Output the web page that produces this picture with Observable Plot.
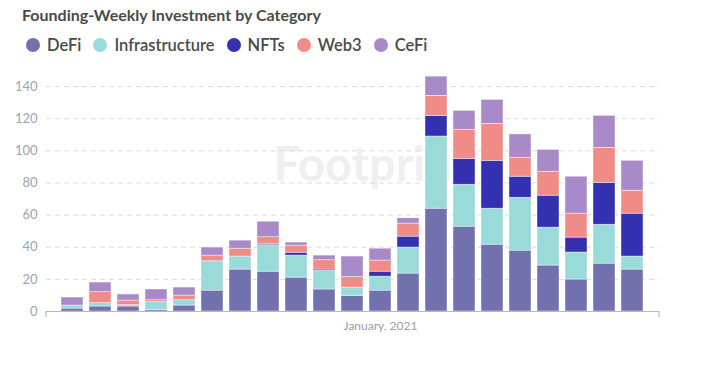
<!DOCTYPE html>
<html>
<head>
<meta charset="utf-8">
<script src="https://cdn.jsdelivr.net/npm/d3@7"></script>
<script src="https://cdn.jsdelivr.net/npm/@observablehq/plot@0.6"></script>
<style>
  html, body { margin: 0; padding: 0; background: #fff; }
  #wrap { position: relative; width: 701px; height: 368px; font-family: Lato, "Open Sans", sans-serif; }
  #title { position: absolute; left: 22px; top: 5px; font-size: 16px; font-weight: bold; color: #4a4a4a; white-space: nowrap; }
  #legend { position: absolute; left: 26px; top: 35px; display: flex; gap: 0; font-size: 16.5px; font-weight: 600; color: #4a4a4a; white-space: nowrap; }
  #legend span.item { display: inline-flex; align-items: center; margin-right: 12px; }
  #legend span.dot { display: inline-block; width: 14px; height: 14px; border-radius: 50%; margin-right: 7px; }
  #chart { position: absolute; left: 0; top: 0; }
</style>
</head>
<body>
<div id="wrap">
  <div id="chart"></div>
  <div id="title">Founding-Weekly Investment by Category</div>
  <div id="legend"></div>
</div>
<script>
const weeks = ["2020-10-19","2020-10-26","2020-11-02","2020-11-09","2020-11-16","2020-11-23","2020-11-30","2020-12-07","2020-12-14","2020-12-21","2020-12-28","2021-01-04","2021-01-11","2021-01-18","2021-01-25","2021-02-01","2021-02-08","2021-02-15","2021-02-22","2021-03-01","2021-03-08"];
const categories = ["DeFi","Infrastructure","NFTs","Web3","CeFi"];
const colors = ["#7371ad","#9adbd9","#3431b0","#f08c88","#a98ac8"];
const defi  = [1.8,3.1,3.1,0.8,3.7,13.0,26.1,24.8,21.1,13.7,9.7,13.0,23.6,64.0,52.8,41.6,37.9,28.6,19.9,29.8,26.1];
const infra = [1.9,2.1,0.8,5.0,3.3,17.9,8.1,16.4,13.7,11.6,5.2,8.7,16.2,44.9,26.1,22.4,32.9,23.6,16.8,24.2,8.1];
const nfts  = [0,0,0,0,0,0.6,0,0.6,1.8,0.8,0,3.1,6.8,12.9,16.1,29.8,13.1,19.9,9.3,26.1,26.7];
const web3  = [0,6.8,2.9,1.2,2.9,3.3,4.9,4.4,4.4,5.8,6.6,6.9,8.1,12.4,18.1,23.0,11.8,14.9,14.9,21.8,14.3];
const cefi  = [5.0,6.0,3.8,6.7,5.0,5.0,5.0,9.7,1.9,2.9,12.7,7.4,3.3,12.0,11.8,14.9,14.5,13.6,23.0,19.9,18.6];
const yTicks = [0,20,40,60,80,100,120,140];
const xTickWeek = "2021-01-04";
const xTickLabel = "January, 2021";
const watermark = "Footprint";

const series = [defi, infra, nfts, web3, cefi];
const data = [];
categories.forEach((c, i) => weeks.forEach((w, j) => data.push({week: w, category: c, value: series[i][j]})));

const plot = Plot.plot({
  width: 701,
  height: 368,
  marginTop: 70,
  marginBottom: 57,
  marginLeft: 46,
  marginRight: 42,
  style: {fontFamily: "Lato, 'Open Sans', sans-serif", background: "transparent"},
  x: {type: "band", domain: weeks, paddingInner: 0.2, paddingOuter: 0.335, label: null},
  y: {domain: [0, 150], label: null},
  color: {domain: categories, range: colors},
  marks: [
    Plot.text([watermark], {frameAnchor: "top-left", dx: 227, dy: 95, text: d => d, fontSize: 47, fontWeight: "bold", fill: "#efefef", textAnchor: "start", lineAnchor: "middle"}),
    Plot.gridY(yTicks, {stroke: "#dcdcdc", strokeOpacity: 1, strokeDasharray: "5,4"}),
    Plot.barY(data, Plot.stackY({order: null}, {x: "week", y: "value", fill: "category", stroke: "#ffffff", strokeWidth: 0.6, strokeOpacity: 0.7})),
    Plot.ruleY([0], {stroke: "#b4b8c4", strokeWidth: 1.2}),
    Plot.axisY(yTicks, {tickSize: 0, tickPadding: 9, fontSize: 13, fill: "#9aa4b6", label: null}),
    Plot.axisX([xTickWeek], {tickSize: 0, tickPadding: 10, fontSize: 12, fill: "#9a9ea8", tickFormat: () => xTickLabel, label: null})
  ]
});

// end ticks of x axis at the band scale range ends
const xs = plot.scale("x").range;
const yz = plot.scale("y").apply(0);
const svg = d3.select(plot);
xs.forEach(x => svg.append("line").attr("x1", x).attr("x2", x).attr("y1", yz).attr("y2", yz + 6).attr("stroke", "#b4b8c4").attr("stroke-width", 1.2));

document.getElementById("chart").appendChild(plot);

const legend = document.getElementById("legend");
categories.forEach((c, i) => {
  const item = document.createElement("span");
  item.className = "item";
  const dot = document.createElement("span");
  dot.className = "dot";
  dot.style.background = colors[i];
  item.appendChild(dot);
  item.appendChild(document.createTextNode(c));
  legend.appendChild(item);
});
</script>
</body>
</html>
